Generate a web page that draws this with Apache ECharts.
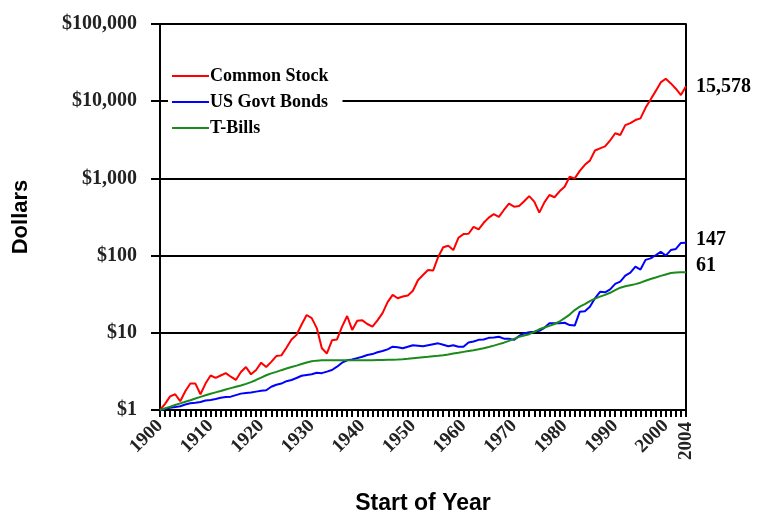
<!DOCTYPE html>
<html>
<head>
<meta charset="utf-8">
<script src="https://cdn.jsdelivr.net/npm/echarts@6/dist/echarts.min.js"></script>
<style>
  html, body { margin: 0; padding: 0; background: #fff; }
  #main { width: 758px; height: 515px; }
</style>
</head>
<body>
<div id="main"></div>
<script>
// years along the x axis, start of year
var years = [];
for (var y = 1900; y <= 2004; y++) years.push(String(y));

// value of $1 invested at start of 1900
var stocks = [
  1.00, 1.20, 1.50, 1.60, 1.30, 1.75, 2.20, 2.20, 1.60, 2.20,
  2.80, 2.60, 2.80, 3.00, 2.70, 2.45, 3.10, 3.60, 2.90, 3.30,
  4.10, 3.60, 4.20, 5.00, 5.10, 6.40, 8.20, 9.40, 12.8, 17.0,
  15.5, 11.5, 6.30, 5.40, 8.00, 8.20, 12.0, 16.5, 10.9, 14.3,
  14.5, 13.0, 12.0, 14.5, 18.0, 25.0, 31.0, 28.0, 29.5, 30.5,
  35.0, 48.0, 56.0, 65.0, 64.0, 96.0, 128, 134, 118, 170,
  190, 192, 236, 218, 266, 310, 345, 318, 390, 470,
  430, 440, 505, 590, 500, 360, 490, 610, 570, 680,
  780, 1050, 1000, 1250, 1500, 1700, 2300, 2450, 2600, 3100,
  3850, 3650, 4900, 5200, 5700, 6000, 8200, 10500, 13500, 17500,
  19500, 17000, 14500, 12000, 15578
];
var bonds = [
  1.00, 1.04, 1.07, 1.09, 1.12, 1.18, 1.22, 1.24, 1.27, 1.33,
  1.35, 1.39, 1.44, 1.47, 1.49, 1.56, 1.63, 1.66, 1.68, 1.73,
  1.77, 1.80, 2.00, 2.12, 2.20, 2.36, 2.45, 2.60, 2.78, 2.84,
  2.90, 3.04, 3.00, 3.14, 3.30, 3.64, 4.10, 4.40, 4.50, 4.70,
  4.90, 5.16, 5.30, 5.60, 5.80, 6.10, 6.60, 6.50, 6.30, 6.60,
  6.90, 6.80, 6.70, 6.90, 7.10, 7.30, 7.00, 6.70, 6.90, 6.60,
  6.60, 7.50, 7.70, 8.10, 8.20, 8.60, 8.70, 8.90, 8.40, 8.40,
  8.10, 9.10, 9.80, 10.2, 10.3, 10.6, 11.6, 13.3, 13.3, 13.3,
  13.5, 12.6, 12.4, 18.8, 19.0, 21.8, 28.0, 34.0, 33.5, 36.5,
  43.0, 46.0, 55.0, 60.0, 72.0, 66.0, 88.0, 92.0, 101, 112,
  100, 118, 122, 146, 147
];
var bills = [
  1.00, 1.05, 1.10, 1.16, 1.22, 1.28, 1.34, 1.41, 1.48, 1.55,
  1.62, 1.69, 1.76, 1.84, 1.92, 2.00, 2.08, 2.18, 2.30, 2.45,
  2.62, 2.82, 2.98, 3.12, 3.28, 3.44, 3.60, 3.76, 3.94, 4.12,
  4.28, 4.36, 4.40, 4.42, 4.42, 4.42, 4.42, 4.42, 4.42, 4.42,
  4.42, 4.42, 4.42, 4.43, 4.44, 4.46, 4.48, 4.50, 4.54, 4.60,
  4.67, 4.74, 4.81, 4.88, 4.98, 5.04, 5.12, 5.25, 5.40, 5.50,
  5.66, 5.82, 5.95, 6.12, 6.32, 6.56, 6.82, 7.14, 7.45, 7.85,
  8.35, 8.87, 9.25, 9.60, 10.3, 11.1, 11.7, 12.3, 13.0, 14.0,
  15.5, 17.2, 19.7, 21.8, 23.5, 25.7, 27.7, 29.4, 31.0, 33.0,
  35.7, 38.4, 40.1, 41.4, 42.7, 44.6, 47.2, 49.8, 52.0, 54.6,
  57.0, 59.5, 60.3, 60.7, 61.0
];

var seriesNames = ['Common Stock', 'US Govt Bonds', 'T-Bills'];
var seriesColors = ['#ff0000', '#0000ff', '#1a8a1a'];

var serif = '"Liberation Serif", "Times New Roman", serif';
var sans = '"Liberation Sans", Arial, sans-serif';

function money(v) {
  return '$' + Math.round(v).toLocaleString('en-US');
}

function endLabel(offsetY) {
  return {
    show: true,
    distance: 10,
    offset: [0, offsetY],
    color: '#000',
    fontFamily: serif,
    fontWeight: 'bold',
    fontSize: 20,
    formatter: function (p) {
      return Math.round(p.value).toLocaleString('en-US');
    }
  };
}

var chart = echarts.init(document.getElementById('main'));

var option = {
  animation: false,
  backgroundColor: '#fff',
  grid: { left: 160, right: 72, top: 24, bottom: 105, outerBoundsMode: 'none', containLabel: false },
  legend: {
    orient: 'vertical',
    left: 168,
    top: 64,
    itemGap: 8,
    itemWidth: 37,
    itemHeight: 2,
    icon: 'rect',
    backgroundColor: '#fff',
    padding: [3, 14, 3, 4],
    textStyle: { fontFamily: serif, fontWeight: 'bold', fontSize: 18, color: '#000', padding: [0, 0, 0, -4] },
    data: seriesNames
  },
  xAxis: [
    {
      type: 'category',
      data: years,
      boundaryGap: false,
      name: 'Start of Year',
      nameLocation: 'middle',
      nameGap: 82,
      nameTextStyle: { fontFamily: sans, fontWeight: 'bold', fontSize: 23, color: '#000' },
      axisLine: { lineStyle: { color: '#000', width: 2 } },
      axisTick: { show: true, interval: 0, length: 7, lineStyle: { color: '#000', width: 2 } },
      axisLabel: {
        interval: function (i, v) { return Number(v) % 10 === 0; },
        rotate: 45,
        margin: 13,
        fontFamily: serif,
        fontWeight: 'bold',
        fontSize: 19,
        color: '#222'
      }
    },
    {
      type: 'category',
      data: years,
      boundaryGap: false,
      position: 'bottom',
      axisLine: { show: false },
      axisTick: { show: false },
      axisLabel: {
        interval: function (i, v) { return v === '2004'; },
        rotate: 90,
        margin: 12,
        fontFamily: serif,
        fontWeight: 'bold',
        fontSize: 19,
        color: '#222'
      }
    }
  ],
  yAxis: [
    {
      type: 'log',
      logBase: 10,
      min: 1,
      max: 100000,
      name: 'Dollars',
      nameLocation: 'middle',
      nameGap: 128,
      nameTextStyle: { fontFamily: sans, fontWeight: 'bold', fontSize: 22, color: '#000' },
      axisLine: { show: true, lineStyle: { color: '#000', width: 2 } },
      axisTick: { show: true, length: 9, lineStyle: { color: '#000', width: 2 } },
      minorTick: { show: false },
      splitLine: { show: true, lineStyle: { color: '#000', width: 2 } },
      axisLabel: {
        margin: 23,
        fontFamily: serif,
        fontWeight: 'bold',
        fontSize: 20,
        color: '#222',
        formatter: money
      }
    },
    {
      type: 'log',
      logBase: 10,
      min: 1,
      max: 100000,
      position: 'right',
      axisLine: { show: true, lineStyle: { color: '#000', width: 2 } },
      axisTick: { show: false },
      axisLabel: { show: false },
      splitLine: { show: false }
    }
  ],
  series: [
    {
      name: seriesNames[0],
      type: 'line',
      data: stocks,
      showSymbol: false,
      color: seriesColors[0],
      lineStyle: { width: 2 },
      endLabel: endLabel(0)
    },
    {
      name: seriesNames[1],
      type: 'line',
      data: bonds,
      showSymbol: false,
      color: seriesColors[1],
      lineStyle: { width: 2 },
      endLabel: endLabel(-3)
    },
    {
      name: seriesNames[2],
      type: 'line',
      data: bills,
      showSymbol: false,
      color: seriesColors[2],
      lineStyle: { width: 2 },
      endLabel: endLabel(-6)
    }
  ]
};

chart.setOption(option);
</script>
</body>
</html>
